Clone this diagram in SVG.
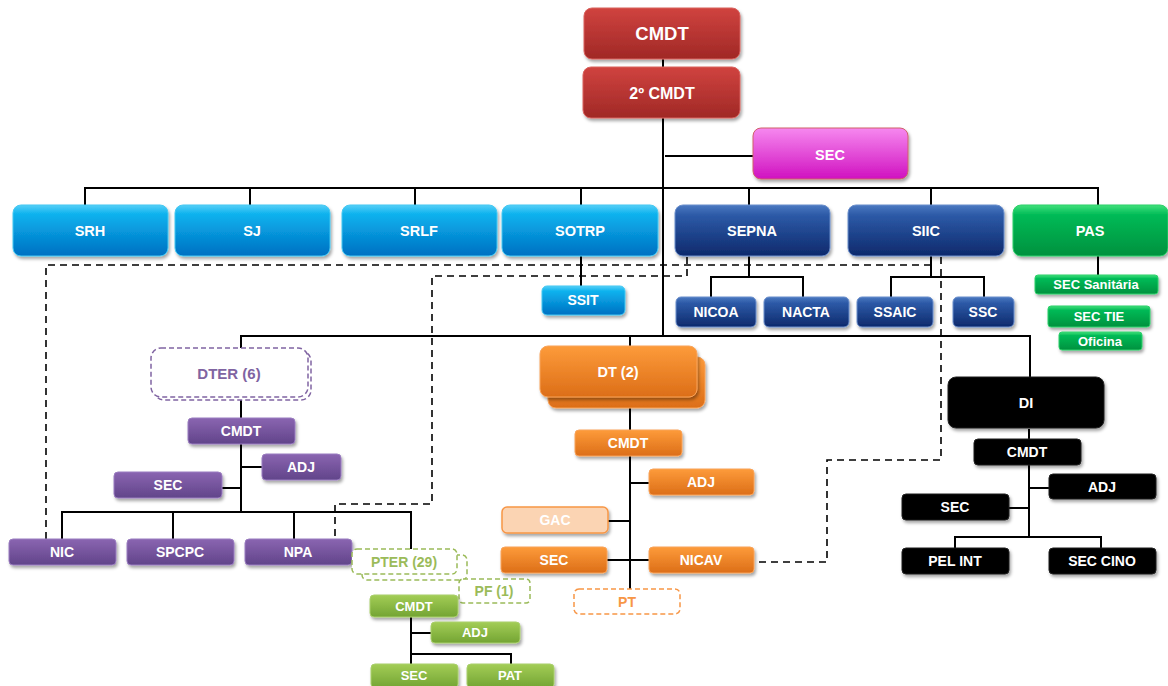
<svg xmlns="http://www.w3.org/2000/svg" width="1168" height="686" viewBox="0 0 1168 686">
<defs>
<linearGradient id="gRed" x1="0" y1="0" x2="0" y2="1"><stop offset="0" stop-color="#d0433f"/><stop offset="1" stop-color="#a02826"/></linearGradient>
<linearGradient id="gMag" x1="0" y1="0" x2="0" y2="1"><stop offset="0" stop-color="#f688ef"/><stop offset="1" stop-color="#d012c0"/></linearGradient>
<linearGradient id="gLB" x1="0" y1="0" x2="0" y2="1"><stop offset="0" stop-color="#56cff7"/><stop offset="0.18" stop-color="#0cb2ee"/><stop offset="1" stop-color="#0070c2"/></linearGradient>
<linearGradient id="gDB" x1="0" y1="0" x2="0" y2="1"><stop offset="0" stop-color="#4b79c1"/><stop offset="0.2" stop-color="#2d5aa7"/><stop offset="1" stop-color="#0d296c"/></linearGradient>
<linearGradient id="gGr" x1="0" y1="0" x2="0" y2="1"><stop offset="0" stop-color="#40e07b"/><stop offset="0.2" stop-color="#00ba56"/><stop offset="1" stop-color="#00913e"/></linearGradient>
<linearGradient id="gPu" x1="0" y1="0" x2="0" y2="1"><stop offset="0" stop-color="#8a65b1"/><stop offset="1" stop-color="#61448a"/></linearGradient>
<linearGradient id="gOr" x1="0" y1="0" x2="0" y2="1"><stop offset="0" stop-color="#fd9b3a"/><stop offset="1" stop-color="#dc6e18"/></linearGradient>
<linearGradient id="gLG" x1="0" y1="0" x2="0" y2="1"><stop offset="0" stop-color="#a3cd56"/><stop offset="1" stop-color="#73a433"/></linearGradient>
<filter id="sh" x="-10%" y="-20%" width="130%" height="160%"><feDropShadow dx="1.5" dy="2.5" stdDeviation="1.8" flood-color="#000" flood-opacity="0.35"/></filter>
</defs>
<style>
text{font-family:"Liberation Sans",Arial,sans-serif;font-weight:bold;fill:#fff;text-anchor:middle}
.red{fill:url(#gRed);stroke:#d9625e;stroke-width:1;filter:url(#sh)}
.mag{fill:url(#gMag);stroke:#d0606a;stroke-width:1;filter:url(#sh)}
.lb{fill:url(#gLB);stroke:#45c8f2;stroke-width:1;filter:url(#sh)}
.db{fill:url(#gDB);stroke:#6a8ecb;stroke-width:1;filter:url(#sh)}
.gr{fill:url(#gGr);stroke:#2fd06b;stroke-width:1;filter:url(#sh)}
.pu{fill:url(#gPu);stroke:#9a7cc0;stroke-width:1;filter:url(#sh)}
.or{fill:url(#gOr);stroke:#f8a35a;stroke-width:1;filter:url(#sh)}
.lg{fill:url(#gLG);stroke:#a9cf6c;stroke-width:1;filter:url(#sh)}
.bk{fill:#000;stroke:#222;stroke-width:1;filter:url(#sh)}
.gac{fill:#fbd4b3;stroke:#f79646;stroke-width:1.5;filter:url(#sh)}
.dpu{fill:#fff;stroke:#8064a2;stroke-width:1.5;stroke-dasharray:5 3}
.dgr{fill:#fff;stroke:#9bbb59;stroke-width:1.5;stroke-dasharray:5 3}
.dor{fill:#fff;stroke:#f79646;stroke-width:1.5;stroke-dasharray:5 3}
.ln{fill:none;stroke:#000;stroke-width:2}
.dl{fill:none;stroke:#000;stroke-width:1.6;stroke-dasharray:7 5}
.L{font-size:14.5px}
.S{font-size:14px}
.XS{font-size:13px}
</style>
<g id="connectors">
<path class="ln" d="M663 59V67M663 118V336M665 156H753"/>
<path class="ln" d="M85 205V188H1098V205M250 188V205M415 188V205M581 188V205M749 188V205M931 188V205"/>
<path class="ln" d="M581 256V286M749 256V277M711 297V277H803V297M931 256V277M891 297V277H984V297M1098 256V275"/>
<path class="ln" d="M241 348V336H1030V377M630 336V346"/>
<path class="ln" d="M241 400V418M241 444V512M241 467H262M222 488H241M62 539V512H411V549M173 512V539M294 512V539"/>
<path class="ln" d="M411 617V664M411 633H431M411 654H511V664"/>
<path class="ln" d="M630 408V430M630 456V589M630 483H649M608 521H630M607 560H649"/>
<path class="ln" d="M1029 429V439M1029 465V537M1029 488H1049M1009 508H1029M955 548V537H1101V548"/>
<path class="dl" d="M46 539V265H930"/>
<path class="dl" d="M941 257V460H827V562H755"/>
<path class="dl" d="M687 257V276H432V504H335V538"/>
</g>
<g id="n-cmdt"><rect class="red" x="584" y="8" width="156" height="51" rx="8"/><text x="662" y="40" style="font-size:18.5px">CMDT</text></g>
<g id="n-2cmdt"><rect class="red" x="583" y="67" width="157" height="51" rx="8"/><text x="662" y="99" style="font-size:16px">2º CMDT</text></g>
<g id="n-sec"><rect class="mag" x="753" y="128" width="155" height="51" rx="8"/><text class="L" x="830" y="160">SEC</text></g>
<g id="n-srh"><rect class="lb" x="13" y="205" width="155" height="51" rx="8"/><text class="L" x="90" y="236">SRH</text></g>
<g id="n-sj"><rect class="lb" x="175" y="205" width="155" height="51" rx="8"/><text class="L" x="252" y="236">SJ</text></g>
<g id="n-srlf"><rect class="lb" x="342" y="205" width="155" height="51" rx="8"/><text class="L" x="419" y="236">SRLF</text></g>
<g id="n-sotrp"><rect class="lb" x="502" y="205" width="156" height="51" rx="8"/><text class="L" x="580" y="236">SOTRP</text></g>
<g id="n-sepna"><rect class="db" x="675" y="205" width="155" height="51" rx="8"/><text class="L" x="752" y="236">SEPNA</text></g>
<g id="n-siic"><rect class="db" x="848" y="205" width="156" height="51" rx="8"/><text class="L" x="926" y="236">SIIC</text></g>
<g id="n-pas"><rect class="gr" x="1013" y="205" width="155" height="51" rx="8"/><text class="L" x="1090" y="236">PAS</text></g>
<g id="n-ssit"><rect class="lb" x="542" y="286" width="83" height="29" rx="5"/><text class="S" x="583" y="305">SSIT</text></g>
<g id="n-nicoa"><rect class="db" x="676" y="297" width="80" height="30" rx="5"/><text class="S" x="716" y="317">NICOA</text></g>
<g id="n-nacta"><rect class="db" x="764" y="297" width="85" height="30" rx="5"/><text class="S" x="806" y="317">NACTA</text></g>
<g id="n-ssaic"><rect class="db" x="857" y="297" width="76" height="30" rx="5"/><text class="S" x="895" y="317">SSAIC</text></g>
<g id="n-ssc"><rect class="db" x="953" y="297" width="61" height="30" rx="5"/><text class="S" x="983" y="317">SSC</text></g>
<g id="n-secsan"><rect class="gr" x="1035" y="275" width="123" height="19" rx="3"/><text class="XS" x="1096" y="289">SEC Sanitária</text></g>
<g id="n-sectie"><rect class="gr" x="1048" y="306" width="102" height="21" rx="3"/><text class="XS" x="1099" y="321">SEC TIE</text></g>
<g id="n-oficina"><rect class="gr" x="1059" y="332" width="83" height="18" rx="3"/><text class="XS" x="1100" y="346">Oficina</text></g>
<g id="n-dter"><rect class="dpu" x="154" y="351" width="157" height="49" rx="10"/><rect class="dpu" x="151" y="348" width="157" height="49" rx="10"/><text x="229" y="379" style="font-size:15px;fill:#8064a2">DTER (6)</text></g>
<g id="n-dter-cmdt"><rect class="pu" x="188" y="418" width="107" height="26" rx="4"/><text class="S" x="241" y="436">CMDT</text></g>
<g id="n-dter-adj"><rect class="pu" x="262" y="454" width="79" height="26" rx="4"/><text class="S" x="301" y="472">ADJ</text></g>
<g id="n-dter-sec"><rect class="pu" x="114" y="472" width="108" height="26" rx="4"/><text class="S" x="168" y="490">SEC</text></g>
<g id="n-nic"><rect class="pu" x="9" y="539" width="107" height="26" rx="4"/><text class="S" x="62" y="557">NIC</text></g>
<g id="n-spcpc"><rect class="pu" x="127" y="539" width="107" height="26" rx="4"/><text class="S" x="180" y="557">SPCPC</text></g>
<g id="n-npa"><rect class="pu" x="245" y="539" width="107" height="26" rx="4"/><text class="S" x="298" y="557">NPA</text></g>
<g id="n-pter"><rect class="dgr" x="362" y="555" width="105" height="25" rx="5"/><rect class="dgr" x="352" y="549" width="105" height="25" rx="5"/><text class="S" x="404" y="567" style="fill:#9bbb59">PTER (29)</text></g>
<g id="n-pf"><rect class="dgr" x="459" y="579" width="71" height="24" rx="4"/><text class="S" x="494" y="596" style="fill:#9bbb59">PF (1)</text></g>
<g id="n-pter-cmdt"><rect class="lg" x="370" y="595" width="88" height="22" rx="4"/><text class="XS" x="414" y="611">CMDT</text></g>
<g id="n-pter-adj"><rect class="lg" x="431" y="622" width="89" height="21" rx="4"/><text class="XS" x="475" y="637">ADJ</text></g>
<g id="n-pter-sec"><rect class="lg" x="371" y="664" width="87" height="24" rx="4"/><text class="XS" x="414" y="680">SEC</text></g>
<g id="n-pat"><rect class="lg" x="467" y="664" width="87" height="24" rx="4"/><text class="XS" x="510" y="680">PAT</text></g>
<g id="n-dt"><rect class="or" x="548" y="357" width="157" height="51" rx="8"/><rect class="or" x="540" y="346" width="157" height="51" rx="8"/><text class="L" x="618" y="377">DT (2)</text></g>
<g id="n-dt-cmdt"><rect class="or" x="575" y="430" width="107" height="26" rx="4"/><text class="S" x="628" y="448">CMDT</text></g>
<g id="n-dt-adj"><rect class="or" x="649" y="469" width="105" height="26" rx="4"/><text class="S" x="701" y="487">ADJ</text></g>
<g id="n-gac"><rect class="gac" x="502" y="507" width="106" height="26" rx="5"/><text class="S" x="555" y="525">GAC</text></g>
<g id="n-dt-sec"><rect class="or" x="501" y="547" width="106" height="26" rx="4"/><text class="S" x="554" y="565">SEC</text></g>
<g id="n-nicav"><rect class="or" x="649" y="547" width="105" height="26" rx="4"/><text class="S" x="701" y="565">NICAV</text></g>
<g id="n-pt"><rect class="dor" x="574" y="589" width="106" height="25" rx="5"/><text class="S" x="627" y="607" style="fill:#f79646">PT</text></g>
<g id="n-di"><rect class="bk" x="948" y="377" width="156" height="51" rx="8"/><text class="L" x="1026" y="408">DI</text></g>
<g id="n-di-cmdt"><rect class="bk" x="974" y="439" width="107" height="26" rx="4"/><text class="S" x="1027" y="457">CMDT</text></g>
<g id="n-di-adj"><rect class="bk" x="1049" y="474" width="107" height="25" rx="4"/><text class="S" x="1102" y="492">ADJ</text></g>
<g id="n-di-sec"><rect class="bk" x="902" y="494" width="107" height="26" rx="4"/><text class="S" x="955" y="512">SEC</text></g>
<g id="n-pelint"><rect class="bk" x="902" y="548" width="107" height="26" rx="4"/><text class="S" x="955" y="566">PEL INT</text></g>
<g id="n-seccino"><rect class="bk" x="1049" y="548" width="107" height="26" rx="4"/><text class="S" x="1102" y="566">SEC CINO</text></g>
</svg>
